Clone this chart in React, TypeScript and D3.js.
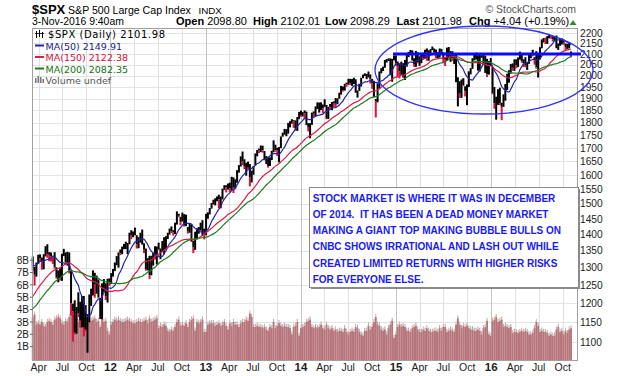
import React from 'react';
import * as d3 from 'd3';

// ---- DATA (weekly) ----
// closes for the 40 weeks before the visible window (used only for the moving averages)
const warmupCloses = [
  1064.9, 1091.6, 1117.5, 1076.8, 1022.6, 1078.0, 1064.9, 1102.7, 1101.6, 1121.6,
  1079.3, 1071.7, 1064.6, 1104.5, 1109.6, 1125.6, 1148.7, 1146.2, 1165.2, 1176.2,
  1183.1, 1183.3, 1225.9, 1199.2, 1199.7, 1189.4, 1224.7, 1240.4, 1243.9, 1256.8,
  1257.6, 1271.5, 1293.2, 1283.4, 1276.3, 1310.9, 1329.2, 1343.0, 1319.9, 1321.2,
];

const firstWeek = '2011-03-11';

const weekClose = [
  // 2011
  1304.3, 1279.2, 1313.8, 1332.4, 1328.2, 1319.7, 1337.4, 1363.6, 1340.2, 1337.8, 1333.3, 1331.1, 1300.2, 1271.0, 1271.5, 1268.5, 1339.7, 1343.8, 1316.1, 1345.0, 1292.3, 1199.4, 1178.8, 1123.5, 1176.8, 1174.0, 1154.2, 1216.0, 1136.4, 1131.4, 1155.5, 1224.6, 1238.3, 1285.1, 1253.2, 1263.9, 1215.7, 1158.7, 1244.3, 1255.2, 1219.7, 1265.3, 1257.6,
  // 2012
  1277.8, 1289.1, 1315.4, 1316.3, 1344.9, 1342.6, 1361.2, 1365.7, 1369.6, 1370.9, 1404.2, 1397.1, 1408.5, 1398.1, 1370.3, 1378.5, 1403.4, 1369.1, 1353.4, 1295.2, 1317.8, 1278.0, 1325.7, 1342.8, 1335.0, 1362.2, 1354.7, 1356.8, 1362.7, 1386.0, 1391.0, 1405.9, 1418.2, 1411.1, 1406.6, 1437.9, 1465.8, 1460.2, 1440.7, 1460.9, 1428.6, 1433.2, 1411.9, 1414.2, 1380.0, 1359.9, 1409.2, 1416.2, 1418.1, 1413.6, 1430.2, 1402.4,
  // 2013
  1466.5, 1472.1, 1486.0, 1503.0, 1513.2, 1517.9, 1519.8, 1515.6, 1518.2, 1551.2, 1560.7, 1556.9, 1569.2, 1553.3, 1588.9, 1555.3, 1582.2, 1614.4, 1633.7, 1667.5, 1649.6, 1630.7, 1643.4, 1626.7, 1592.4, 1606.3, 1631.9, 1680.2, 1692.1, 1691.7, 1709.7, 1691.4, 1655.8, 1663.5, 1633.0, 1655.2, 1688.0, 1709.9, 1691.8, 1690.5, 1703.2, 1744.5, 1759.8, 1761.6, 1770.6, 1798.2, 1804.8, 1805.8, 1805.1, 1775.3, 1818.3, 1841.4,
  // 2014
  1831.4, 1842.4, 1838.7, 1790.3, 1782.6, 1797.0, 1838.6, 1836.3, 1859.5, 1878.0, 1841.1, 1866.5, 1857.6, 1865.1, 1815.7, 1864.9, 1863.4, 1881.1, 1878.5, 1877.9, 1900.5, 1923.6, 1949.4, 1936.2, 1962.9, 1961.0, 1985.4, 1967.6, 1978.2, 1978.3, 1925.2, 1931.6, 1955.1, 1988.4, 2003.4, 2007.7, 1985.5, 2010.4, 1982.9, 1967.9, 1906.1, 1886.8, 1964.6, 2018.1, 2031.9, 2039.8, 2063.5, 2067.6, 2075.4, 2002.3, 2070.7, 2088.8,
  // 2015
  2058.2, 2044.8, 2019.4, 2051.8, 1995.0, 2055.5, 2097.0, 2110.3, 2104.5, 2071.3, 2053.4, 2108.1, 2061.0, 2067.0, 2102.1, 2081.2, 2117.7, 2108.3, 2116.1, 2122.7, 2126.1, 2107.4, 2092.8, 2094.1, 2110.0, 2101.5, 2076.8, 2076.6, 2126.6, 2079.7, 2103.8, 2077.6, 2091.5, 1970.9, 1988.9, 1921.2, 1961.1, 1958.0, 1931.3, 1951.4, 2014.9, 2033.1, 2075.2, 2079.4, 2099.2, 2023.0, 2089.2, 2090.1, 2091.7, 2012.4, 2005.6, 2061.0, 2043.9,
  // 2016
  1922.0, 1880.3, 1906.9, 1940.2, 1880.1, 1864.8, 1917.8, 1948.1, 2000.0, 2022.2, 2049.6, 2035.9, 2072.8, 2047.6, 2080.7, 2091.6, 2065.3, 2057.1, 2046.6, 2052.3, 2099.1, 2099.1, 2096.1, 2071.2, 2037.4, 2103.0, 2129.9, 2161.7, 2175.0, 2173.6, 2182.9, 2184.1, 2183.9, 2169.0, 2180.0, 2127.8, 2139.2, 2164.7, 2168.3, 2153.7, 2133.0, 2141.2, 2126.4, 2102.0,
];

const weekHigh = [
  // 2011
  1333, 1302, 1315, 1338, 1339, 1330, 1340, 1364, 1370, 1346, 1345, 1334, 1346, 1301, 1292, 1298, 1341, 1356, 1345, 1347, 1345, 1292, 1199, 1208, 1190, 1230, 1204, 1220, 1220, 1195, 1171, 1224, 1240, 1292, 1285, 1277, 1266, 1215, 1255, 1267, 1255, 1268, 1269,
  // 2012
  1284, 1296, 1315, 1334, 1345, 1354, 1363, 1371, 1378, 1374, 1406, 1414, 1410, 1422, 1398, 1392, 1406, 1416, 1373, 1357, 1328, 1335, 1335, 1344, 1364, 1363, 1375, 1357, 1380, 1392, 1395, 1406, 1419, 1426, 1414, 1438, 1475, 1467, 1457, 1471, 1466, 1464, 1424, 1434, 1433, 1381, 1409, 1420, 1424, 1438, 1446, 1419,
  // 2013
  1467, 1472, 1486, 1503, 1514, 1519, 1525, 1531, 1525, 1552, 1564, 1564, 1570, 1573, 1594, 1592, 1585, 1618, 1636, 1669, 1687, 1658, 1645, 1649, 1640, 1616, 1633, 1680, 1693, 1698, 1710, 1709, 1689, 1670, 1666, 1665, 1690, 1730, 1713, 1701, 1704, 1745, 1760, 1775, 1774, 1799, 1806, 1814, 1810, 1809, 1823, 1844,
  // 2014
  1849, 1843, 1850, 1845, 1798, 1798, 1841, 1846, 1867, 1884, 1883, 1884, 1875, 1897, 1873, 1865, 1877, 1885, 1888, 1902, 1901, 1925, 1955, 1952, 1964, 1969, 1986, 1986, 1985, 1991, 1984, 1935, 1964, 1991, 2005, 2011, 2008, 2019, 2006, 1985, 1977, 1898, 1966, 2019, 2034, 2041, 2072, 2076, 2079, 2079, 2077, 2093,
  // 2015
  2093, 2065, 2057, 2064, 2057, 2072, 2097, 2110, 2119, 2117, 2080, 2114, 2107, 2089, 2103, 2106, 2120, 2126, 2117, 2123, 2135, 2126, 2121, 2105, 2126, 2124, 2102, 2085, 2130, 2133, 2114, 2113, 2102, 2096, 1993, 1976, 1983, 1989, 1953, 1961, 2020, 2034, 2080, 2098, 2106, 2094, 2097, 2094, 2104, 2092, 2077, 2067, 2081,
  // 2016
  2039, 1950, 1908, 1940, 1947, 1882, 1918, 1963, 2009, 2025, 2053, 2056, 2075, 2075, 2084, 2111, 2099, 2075, 2085, 2062, 2100, 2105, 2120, 2085, 2113, 2104, 2132, 2170, 2176, 2178, 2186, 2194, 2187, 2187, 2184, 2189, 2150, 2176, 2175, 2169, 2150, 2148, 2157, 2112,
];

const weekLow = [
  // 2011
  1291, 1249, 1274, 1311, 1318, 1294, 1295, 1333, 1329, 1319, 1318, 1311, 1297, 1268, 1258, 1263, 1262, 1334, 1313, 1306, 1283, 1168, 1101, 1119, 1121, 1163, 1136, 1137, 1114, 1127, 1074, 1150, 1193, 1221, 1215, 1226, 1214, 1158, 1158, 1231, 1209, 1202, 1248,
  // 2012
  1253, 1274, 1290, 1307, 1300, 1337, 1340, 1355, 1355, 1340, 1370, 1386, 1392, 1398, 1357, 1358, 1375, 1368, 1343, 1291, 1292, 1267, 1278, 1306, 1324, 1309, 1352, 1325, 1346, 1339, 1354, 1386, 1400, 1405, 1397, 1402, 1432, 1456, 1430, 1442, 1425, 1427, 1403, 1406, 1377, 1343, 1353, 1385, 1403, 1411, 1398, 1385,
  // 2013
  1398, 1451, 1465, 1484, 1498, 1495, 1509, 1486, 1485, 1515, 1548, 1539, 1549, 1540, 1547, 1537, 1552, 1573, 1609, 1631, 1636, 1622, 1598, 1621, 1560, 1574, 1601, 1635, 1669, 1681, 1685, 1683, 1654, 1640, 1627, 1633, 1655, 1684, 1686, 1670, 1646, 1700, 1744, 1752, 1746, 1756, 1781, 1796, 1779, 1768, 1767, 1814,
  // 2014
  1824, 1825, 1815, 1790, 1765, 1738, 1791, 1824, 1826, 1856, 1839, 1852, 1839, 1865, 1814, 1815, 1853, 1851, 1863, 1862, 1876, 1899, 1917, 1930, 1934, 1951, 1960, 1959, 1955, 1963, 1927, 1904, 1933, 1952, 1989, 1999, 1984, 1992, 1965, 1942, 1905, 1821, 1884, 1944, 2011, 2021, 2036, 2060, 2067, 2002, 1973, 2070,
  // 2015
  2045, 1992, 1988, 2004, 1990, 1981, 2041, 2085, 2098, 2068, 2040, 2040, 2056, 2045, 2057, 2072, 2078, 2068, 2068, 2094, 2118, 2099, 2081, 2079, 2083, 2098, 2057, 2044, 2067, 2077, 2063, 2068, 2053, 1971, 1867, 1903, 1903, 1953, 1909, 1872, 1950, 2006, 2031, 2070, 2074, 2022, 2019, 2082, 2051, 2012, 1994, 2005, 2043,
  // 2016
  1918, 1857, 1812, 1873, 1872, 1810, 1865, 1891, 1937, 1969, 2009, 2022, 2022, 2034, 2039, 2073, 2059, 2039, 2039, 2026, 2054, 2080, 2089, 2050, 2032, 1992, 2074, 2127, 2155, 2147, 2148, 2175, 2173, 2160, 2160, 2127, 2119, 2139, 2145, 2144, 2114, 2124, 2126, 2084,
];

// average daily volume per week, in billions
const weekVolume = [
  // 2011
  3.4, 3.6, 2.8, 2.9, 2.8, 3.0, 2.7, 2.6, 3.0, 3.1, 3.0, 2.8, 3.2, 3.3, 3.4, 3.3, 2.9, 2.8, 3.1, 3.0, 3.4, 3.9, 3.8, 3.6, 3.3, 3.0, 3.2, 3.1, 3.5, 3.3, 3.4, 3.0, 3.1, 3.2, 3.3, 3.0, 3.1, 2.6, 3.3, 3.0, 3.1, 2.3, 2.0,
  // 2012
  2.8, 3.0, 3.2, 3.1, 3.2, 3.1, 3.0, 3.0, 3.1, 3.2, 3.1, 3.0, 2.9, 2.9, 3.0, 3.1, 3.0, 3.0, 3.1, 3.2, 2.9, 3.3, 3.0, 3.1, 3.2, 3.3, 2.5, 2.7, 2.6, 2.8, 2.7, 2.3, 2.2, 2.4, 2.3, 2.6, 3.0, 3.2, 2.7, 2.8, 2.7, 2.9, 2.6, 3.0, 3.2, 3.3, 2.3, 3.0, 2.9, 3.0, 3.2, 2.2,
  // 2013
  2.2, 2.8, 2.9, 2.9, 2.9, 2.7, 2.8, 2.9, 2.7, 2.8, 3.0, 2.7, 2.4, 2.9, 2.7, 3.0, 2.8, 2.8, 2.6, 2.9, 3.0, 3.0, 3.2, 3.1, 3.7, 3.4, 2.6, 2.6, 2.7, 2.6, 2.6, 2.5, 2.6, 2.4, 2.3, 2.6, 2.5, 3.0, 2.5, 2.7, 2.9, 2.7, 2.6, 2.7, 2.6, 2.6, 2.5, 2.0, 2.6, 2.7, 3.0, 1.9,
  // 2014
  2.5, 2.6, 2.7, 3.0, 3.1, 3.2, 2.6, 2.5, 2.6, 2.5, 2.6, 2.8, 2.5, 2.4, 2.8, 2.5, 2.4, 2.5, 2.3, 2.4, 2.2, 2.3, 2.3, 2.2, 2.5, 2.2, 2.0, 2.2, 2.3, 2.2, 2.6, 2.5, 2.2, 2.0, 1.9, 2.3, 2.3, 2.7, 2.4, 2.6, 3.0, 3.4, 2.8, 2.7, 2.4, 2.3, 2.4, 2.0, 2.5, 2.8, 3.1, 1.7,
  // 2015
  2.0, 2.6, 2.8, 2.6, 2.7, 2.6, 2.3, 2.3, 2.2, 2.5, 2.6, 2.7, 2.4, 2.2, 2.2, 2.4, 2.3, 2.5, 2.3, 2.2, 2.2, 2.3, 2.3, 2.2, 2.5, 2.3, 2.6, 2.6, 2.2, 2.3, 2.4, 2.3, 2.2, 2.8, 3.3, 2.8, 2.5, 2.7, 2.6, 2.7, 2.5, 2.4, 2.4, 2.3, 2.3, 2.4, 2.3, 2.0, 2.5, 2.6, 3.1, 2.0, 1.9,
  // 2016
  3.1, 3.2, 3.4, 3.0, 3.1, 3.2, 2.6, 2.7, 2.6, 2.5, 2.6, 2.1, 2.2, 2.2, 2.1, 2.2, 2.3, 2.2, 2.3, 2.2, 2.0, 2.0, 2.1, 2.5, 3.0, 2.7, 2.2, 2.3, 2.2, 2.2, 2.1, 1.9, 2.0, 1.9, 1.9, 2.4, 2.6, 2.2, 2.3, 2.0, 2.3, 2.1, 2.4, 2.5,
];

const priceTicks = [1100, 1150, 1200, 1250, 1300, 1350, 1400, 1450, 1500, 1550, 1600, 1650, 1700, 1750, 1800, 1850, 1900, 1950, 2000, 2050, 2100, 2150, 2200];
const volumeTicks = [1, 2, 3, 4, 5, 6, 7, 8];
const monthNames = ['Jan', 'Feb', 'Mar', 'Apr', 'May', 'Jun', 'Jul', 'Aug', 'Sep', 'Oct', 'Nov', 'Dec'];

const maPeriods = [10, 30, 40]; // weekly equivalents of 50, 150, 200 days
const legendItems = [
  { label: 'MA(50) 2149.91', color: '#1a1a9a', line: '#2424a8' },
  { label: 'MA(150) 2122.38', color: '#d0103c', line: '#dc1e46' },
  { label: 'MA(200) 2082.35', color: '#137013', line: '#1e7b1e' },
];

const noteLines = [
  'STOCK MARKET IS WHERE IT WAS IN DECEMBER',
  'OF 2014.  IT HAS BEEN A DEAD MONEY MARKET',
  'MAKING A GIANT TOP MAKING BUBBLE BULLS ON',
  'CNBC SHOWS IRRATIONAL AND LASH OUT WHILE',
  'CREATED LIMITED RETURNS WITH HIGHER RISKS',
  'FOR EVERYONE ELSE.',
];

const headerItems = [
  { bold: 'Open', value: '2098.80', x: 176 },
  { bold: 'High', value: '2102.01', x: 253 },
  { bold: 'Low', value: '2098.29', x: 325 },
  { bold: 'Last', value: '2101.98', x: 396.5 },
  { bold: 'Chg', value: '+4.04 (+0.19%)', x: 469 },
];

const trendLevel = 2100;

// ---- CHART ----
const W = 620, H = 376;
const L = 33, R = 577, T = 28, B = 360;
const FONT = '"Liberation Sans", Arial, sans-serif';

export default function App() {
  const x = d3.scaleTime().domain([new Date(2011, 2, 10), new Date(2016, 10, 25)]).range([L, R]);
  const y = d3.scaleLog().domain([1056.6, 2226]).range([B, T]);
  const yv = d3.scaleLinear().domain([0, 8]).range([359, 260.2]);

  const start = d3.timeParse('%Y-%m-%d')(firstWeek) as Date;
  const weeks = weekClose.map((c, i) => {
    const prev = i === 0 ? warmupCloses[warmupCloses.length - 1] : weekClose[i - 1];
    return {
      date: d3.timeDay.offset(start, 7 * i - 2),
      close: c,
      high: weekHigh[i],
      low: weekLow[i],
      vol: weekVolume[i],
      down: c < prev,
    };
  });

  const all = warmupCloses.concat(weekClose);
  const maSeries = maPeriods.map((n) =>
    weeks.map((w, i) => {
      const k = i + warmupCloses.length;
      return { date: w.date, v: d3.mean(all.slice(k - n + 1, k + 1)) as number };
    })
  );
  const maLine = d3
    .line<{ date: Date; v: number }>()
    .x((d) => x(d.date))
    .y((d) => y(d.v))
    .curve(d3.curveMonotoneX);

  const quarters = d3.timeMonth.every(3)!.range(new Date(2011, 3, 1), new Date(2016, 10, 5));
  const bw = 2.0;

  return (
    <svg width={W} height={H} style={{ position: 'absolute', left: 0, top: 0, display: 'block', background: '#fff' }} fontFamily={FONT}>
      <rect x={0} y={0} width={W} height={H} fill="#fff" />
      {/* header */}
      <text x={32} y={14} fontSize={13} fontWeight="bold" fill="#000">$SPX</text>
      <text x={68} y={13.5} fontSize={10.6} fill="#000">S&amp;P 500 Large Cap Index</text>
      <text x={198.5} y={13.5} fontSize={9.8} fill="#000">INDX</text>
      <text x={576} y={12.5} fontSize={10.5} fill="#555" textAnchor="end">© StockCharts.com</text>
      <text x={32} y={25} fontSize={10.4} fill="#000">3-Nov-2016 9:40am</text>
      {headerItems.map((h) => (
        <text key={h.bold} x={h.x} y={25} fontSize={11} fill="#000">
          <tspan fontWeight="bold">{h.bold}</tspan>
          <tspan dx={3}>{h.value}</tspan>
        </text>
      ))}
      <path d="M569.5,25 L576.5,25 L573,20 Z" fill="#2e8b2e" />

      {/* grid */}
      <rect x={L} y={T} width={R - L} height={B - T} fill="#fff" />
      {priceTicks.map((t) => (
        <line key={t} x1={L} x2={R} y1={Math.round(y(t)) + 0.5} y2={Math.round(y(t)) + 0.5} stroke="#e4e4e4" />
      ))}
      {quarters.map((q) => (
        <line
          key={+q}
          x1={Math.round(x(q)) + 0.5}
          x2={Math.round(x(q)) + 0.5}
          y1={T}
          y2={B}
          stroke={q.getMonth() === 0 ? '#c4c4c4' : '#e0e0e0'}
        />
      ))}

      {/* volume */}
      {weeks.map((w, i) => (
        <g key={'v' + i}>
          <rect x={x(w.date) - 0.95} y={yv(w.vol)} width={1.9} height={yv(0) - yv(w.vol) + 1} fill="#b7767b" />
          <rect x={x(w.date) - 0.5} y={yv(w.vol) - 3} width={1} height={3} fill={w.down ? '#dca3a5' : '#a6a6a6'} />
        </g>
      ))}

      {/* price bars */}
      {weeks.map((w, i) =>
        w.down ? (
          <g key={'p' + i}>
            <line x1={x(w.date)} x2={x(w.date)} y1={y(w.high)} y2={y(w.close)} stroke="#000" strokeWidth={bw} />
            <line x1={x(w.date)} x2={x(w.date)} y1={y(w.close)} y2={y(w.low)} stroke="#e0103c" strokeWidth={bw} />
          </g>
        ) : (
          <line key={'p' + i} x1={x(w.date)} x2={x(w.date)} y1={y(w.high)} y2={y(w.low)} stroke="#000" strokeWidth={bw} />
        )
      )}

      {/* moving averages */}
      {maSeries.map((s, i) => (
        <path key={'ma' + i} d={maLine(s) || ''} fill="none" stroke={legendItems[i].line} strokeWidth={1.2} />
      ))}

      {/* plot frame */}
      <rect x={L - 0.5} y={T + 0.5} width={R - L + 1} height={B - T} fill="none" stroke="#a0a0a0" />

      {/* right price axis */}
      {priceTicks.map((t) => (
        <text key={'pt' + t} x={580} y={y(t) + 3.6} fontSize={10.2} fill="#222">{t}</text>
      ))}
      {/* left volume axis */}
      {volumeTicks.map((t) => (
        <g key={'vt' + t}>
          <line x1={30} x2={L} y1={yv(t)} y2={yv(t)} stroke="#666" />
          <text x={29} y={yv(t) + 3.6} fontSize={10} fill="#222" textAnchor="end">{t}B</text>
        </g>
      ))}
      {/* x axis labels */}
      {quarters.map((q) => {
        const isYear = q.getMonth() === 0;
        return (
          <text
            key={'xl' + +q}
            x={x(q)}
            y={371}
            fontSize={isYear ? 11.5 : 10.5}
            fontWeight={isYear ? 'bold' : 'normal'}
            textAnchor="middle"
            fill="#222"
          >
            {isYear ? d3.timeFormat('%y')(q) : monthNames[q.getMonth()]}
          </text>
        );
      })}

      {/* legend */}
      <g>
        <line x1={36.5} x2={36.5} y1={31} y2={38} stroke="#000" strokeWidth={1} />
        <line x1={39.5} x2={39.5} y1={30} y2={37} stroke="#000" strokeWidth={1} />
        <line x1={42.5} x2={42.5} y1={32} y2={38} stroke="#000" strokeWidth={1} />
        <line x1={35} x2={44} y1={33.5} y2={33.5} stroke="#000" strokeWidth={0.8} />
        <text x={48} y={38} fontSize={10} fill="#000" fontFamily="'DejaVu Sans', sans-serif" textLength={117} lengthAdjust="spacing">
          $SPX (Daily) 2101.98
        </text>
        {legendItems.map((it, i) => (
          <g key={it.label}>
            <line x1={35} x2={44} y1={45.5 + i * 11.5} y2={45.5 + i * 11.5} stroke={it.line} strokeWidth={2} />
            <text x={45.5} y={49.5 + i * 11.5} fontSize={9.5} fill={it.color} fontFamily="'DejaVu Sans', sans-serif">{it.label}</text>
          </g>
        ))}
        <rect x={35} y={78} width={1.5} height={5} fill="#777" />
        <rect x={37.5} y={76} width={1.5} height={7} fill="#777" />
        <rect x={40} y={77} width={1.5} height={6} fill="#777" />
        <rect x={42.5} y={79} width={1.5} height={4} fill="#777" />
        <text x={45.5} y={84} fontSize={9.5} fill="#555" fontFamily="'DejaVu Sans', sans-serif">Volume undef</text>
      </g>

      {/* annotations */}
      <line x1={393} x2={581} y1={y(trendLevel)} y2={y(trendLevel)} stroke="#0a0aff" strokeWidth={3} />
      <ellipse cx={484} cy={70} rx={109} ry={44} fill="none" stroke="#3030ff" strokeWidth={1.3} />

      {/* note box */}
      <rect x={311} y={189} width={269} height={100} fill="#8a8a8a" />
      <rect x={309.5} y={187.5} width={269} height={100} fill="#fff" stroke="#8a8a8a" />
      {noteLines.map((ln, i) => (
        <text key={i} x={312.7} y={202 + i * 16.15} fontSize={10} fontWeight="bold" fill="#1a1af5" style={{ whiteSpace: 'pre' }}>
          {ln}
        </text>
      ))}
    </svg>
  );
}
